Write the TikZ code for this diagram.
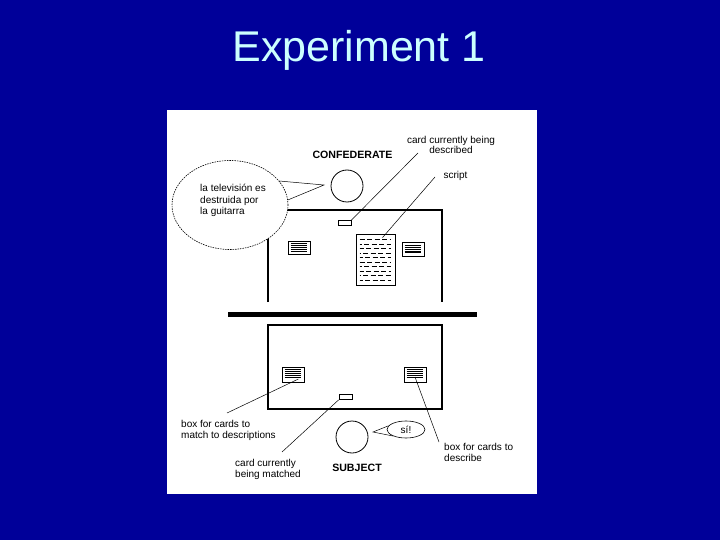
\documentclass[tikz,border=0pt]{standalone}
\usepackage{fontspec}
\setmainfont{Liberation Sans}
\usetikzlibrary{shapes.geometric}
\definecolor{slideblue}{RGB}{0,0,153}
\definecolor{titlecyan}{RGB}{204,255,255}

\begin{document}
\begin{tikzpicture}[x=1pt,y=-1pt,
  every node/.style={font=\fontsize{10}{11.5}\selectfont},
  note/.style={inner sep=0pt,align=left,anchor=north west},
  boldtext/.style={font=\fontsize{10.6}{12}\selectfont\bfseries},
  head/.style={draw,circle,minimum size=32pt,line width=0.8pt},
  card/.style={draw,fill=white,inner sep=0pt,minimum width=22pt,minimum height=14pt,line width=0.8pt},
  tag/.style={draw,fill=white,inner sep=0pt,minimum width=13pt,minimum height=5pt,line width=0.8pt},
  leader/.style={line width=0.5pt},
  table/.style={line width=1.3pt}
]
  \useasboundingbox (0,0) rectangle (720,540);
  \fill[slideblue] (0,0) rectangle (720,540);
  \fill[white] (167,110) rectangle (537,494);
  \node[font=\fontsize{43}{48}\selectfont,text=titlecyan,anchor=base] (title) at (359,62) {Experiment 1};

  \draw[table] (268,302) -- (268,210) -- (442,210) -- (442,302);
  \draw[line width=5pt] (228,314.5) -- (477,314.5);
  \draw[table] (268,325) rectangle (442,409);

  \node[ellipse,draw,fill=white,dash pattern=on 1.5pt off 1pt,line width=0.6pt,minimum width=116pt,minimum height=89pt,inner sep=0pt] (bubble) at (230,205) {};
  \node[note] (bubbleTxt) at (200,184) {la televisión es\\destruida por\\la guitarra};
  \node[head] (confHead) at (347,186) {};
  \coordinate (confTip) at (324,185);
  \draw[leader] (bubble.26) -- (confTip) -- (bubble.5);
  \node[boldtext] (confLbl) at (352.5,155) {CONFEDERATE};

  \node[head] (subjHead) at (352,437) {};
  \node[ellipse,draw,line width=0.6pt,minimum width=38pt,minimum height=17pt,inner sep=0pt] (siBub) at (406,429.5) {sí!};
  \coordinate (siTip) at (373,432);
  \draw[leader] (siBub.168) -- (siTip) -- (siBub.207);
  \node[boldtext] (subjLbl) at (357,468) {SUBJECT};

  \node[tag] (cardCD) at (344.5,223) {};
  \node[card,minimum height=13pt] (cardTL) at (299,247.5) {};
  \node[card] (cardTR) at (413,249) {};
  \node[draw,fill=white,inner sep=0pt,minimum width=39pt,minimum height=51pt,line width=0.8pt] (script) at (375.5,259.5) {};
  \node[card,minimum height=15pt] (cardBL) at (293,374.5) {};
  \node[card,minimum height=15pt] (cardBR) at (415,374.5) {};
  \node[tag] (cardCM) at (345.5,397) {};

  \foreach \c in {cardTL,cardBL,cardBR}
    \foreach \k in {3,5,7,9,11}
      \draw[line width=0.6pt] ([xshift=3pt,yshift=-\k pt]\c.north west) -- ([xshift=-3pt,yshift=-\k pt]\c.north east);
  \foreach \k in {3.5,5.8,8.1,10.4}
    \draw[line width=1.1pt] ([xshift=3pt,yshift=-\k pt]cardTR.north west) -- ([xshift=-3pt,yshift=-\k pt]cardTR.north east);
  \foreach \r/\p in {6/0,10.5/3,15/1,19.5/4,24/2,28.5/0,33/3,37.5/1,42/4,46.5/2}
    \draw[line width=1.1pt,dash pattern=on 5pt off 2.5pt,dash phase=\p pt] ([xshift=4pt,yshift=-\r pt]script.north west) -- ([xshift=-4pt,yshift=-\r pt]script.north east);

  \node[align=center,inner sep=0pt,font=\fontsize{10}{10}\selectfont] (descLbl) at (451,145) {card currently being\\described};
  \node[inner sep=0pt] (scriptLbl) at (455.5,175.5) {script};
  \node[note] (matchLbl) at (181,420) {box for cards to\\match to descriptions};
  \node[note] (curLbl) at (235,459) {card currently\\being matched};
  \node[note] (descrLbl) at (444,443) {box for cards to\\describe};

  \coordinate (descEnd) at (418,153);
  \coordinate (scriptEnd) at (435,177);
  \coordinate (matchEnd) at (227,413);
  \coordinate (curEnd) at (282,452);
  \coordinate (descrEnd) at (439,442);
  \draw[leader] (cardCD.north east) -- (descEnd);
  \draw[leader] ([xshift=7pt,yshift=-4pt]script.north) -- (scriptEnd);
  \draw[leader] ([xshift=-6pt,yshift=-4.5pt]cardBL.east) -- (matchEnd);
  \draw[leader] (cardCM.south west) -- (curEnd);
  \draw[leader] ([yshift=-2.5pt]cardBR.center) -- (descrEnd);
\end{tikzpicture}
\end{document}
